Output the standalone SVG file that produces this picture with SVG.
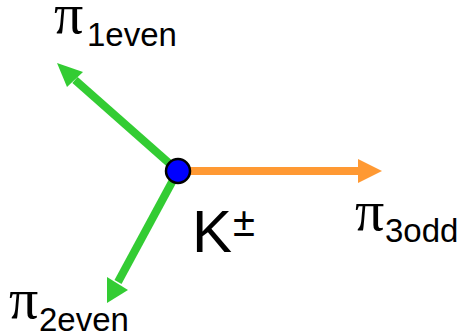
<svg xmlns="http://www.w3.org/2000/svg" width="466" height="335" viewBox="0 0 466 335">
<style>
.pi{font-family:"Liberation Serif","Times New Roman",serif;font-size:58px;fill:#000}
.sub{font-family:"Liberation Sans",Arial,sans-serif;font-size:33px;fill:#000}
.k{font-family:"Liberation Sans",Arial,sans-serif;font-size:60px;fill:#000}
.g{stroke:#33cc33;stroke-width:8;fill:none}
.o{stroke:#ff9933;stroke-width:8;fill:none}
</style>
<g id="connectors">
<line class="g" x1="178" y1="171" x2="75" y2="80"/>
<polygon points="57,63 83,72 67,87" fill="#33cc33"/>
<line class="g" x1="178" y1="171" x2="118" y2="282"/>
<polygon points="107,303 107,277 128,290" fill="#33cc33"/>
<line class="o" x1="178" y1="171" x2="360" y2="171"/>
<polygon points="382,171 358,159 358,183" fill="#ff9933"/>
</g>
<g id="K">
<circle cx="178" cy="171" r="12" fill="#0000ff" stroke="#000" stroke-width="2.5"/>
<text class="k" x="192" y="252">K</text>
<text x="233" y="236" font-family="Liberation Sans,sans-serif" font-size="40">±</text>
</g>
<g id="pi1">
<text class="pi" x="54" y="33">π</text>
<text class="sub" x="87" y="46">1even</text>
</g>
<g id="pi2">
<text class="pi" x="9" y="318">π</text>
<text class="sub" x="39" y="331">2even</text>
</g>
<g id="pi3">
<text class="pi" x="355" y="230">π</text>
<text class="sub" x="385" y="242">3odd</text>
</g>
</svg>
